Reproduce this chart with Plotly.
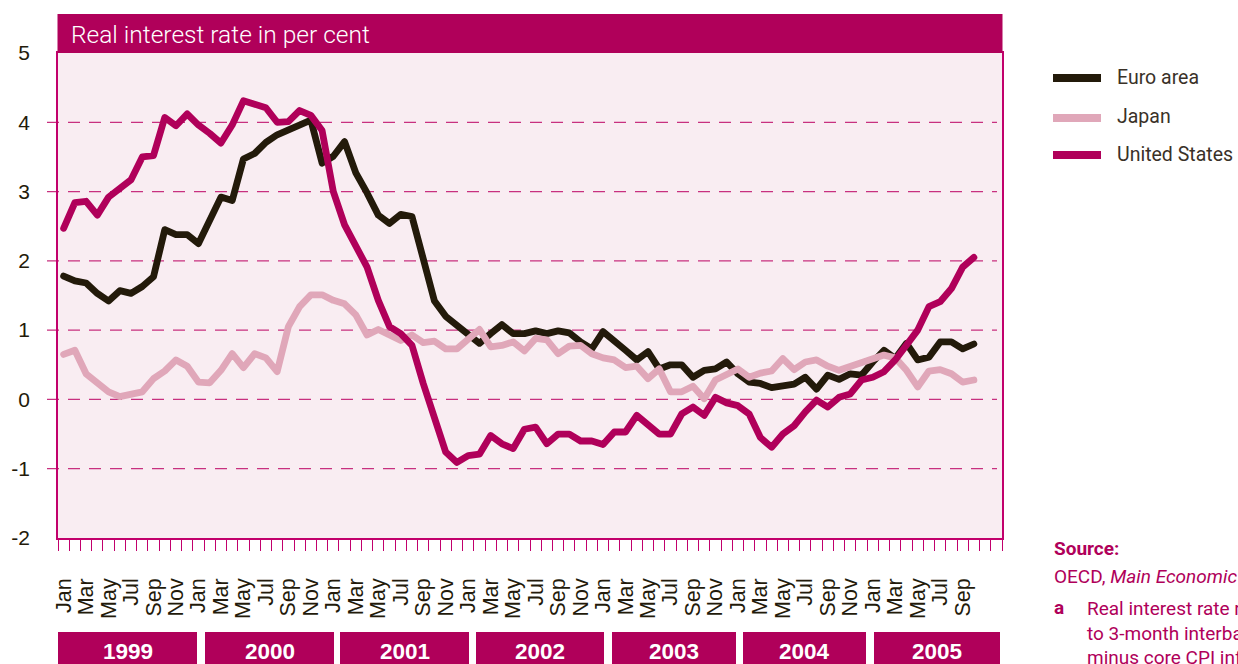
import plotly.graph_objects as go

# ---------------- data ----------------
month_names = ["Jan", "Feb", "Mar", "Apr", "May", "Jun",
               "Jul", "Aug", "Sep", "Oct", "Nov", "Dec"]
years = ["1999", "2000", "2001", "2002", "2003", "2004", "2005"]

euro_area = [
    1.78, 1.71, 1.68, 1.53, 1.42, 1.57, 1.53, 1.63, 1.77, 2.45, 2.38, 2.38,
    2.25, 2.57, 2.92, 2.87, 3.47, 3.55, 3.71, 3.82, 3.89, 3.97, 4.03, 3.41,
    3.51, 3.72, 3.27, 2.98, 2.66, 2.54, 2.67, 2.64, 2.02, 1.42, 1.20, 1.08,
    0.96, 0.81, 0.95, 1.08, 0.95, 0.95, 0.99, 0.95, 0.99, 0.96, 0.83, 0.73,
    0.98, 0.86, 0.71, 0.57, 0.69, 0.44, 0.50, 0.50, 0.32, 0.42, 0.44, 0.54,
    0.37, 0.25, 0.23, 0.17, 0.19, 0.22, 0.32, 0.15, 0.35, 0.29, 0.37, 0.35,
    0.54, 0.71, 0.59, 0.81, 0.57, 0.61, 0.83, 0.83, 0.73, 0.80,
]
japan = [
    0.65, 0.71, 0.37, 0.23, 0.11, 0.04, 0.07, 0.11, 0.30, 0.41, 0.57, 0.48,
    0.25, 0.24, 0.42, 0.66, 0.46, 0.66, 0.60, 0.40, 1.05, 1.34, 1.51, 1.51,
    1.43, 1.38, 1.22, 0.93, 1.01, 0.93, 0.85, 0.93, 0.82, 0.84, 0.73, 0.73,
    0.88, 1.01, 0.76, 0.78, 0.83, 0.70, 0.88, 0.86, 0.66, 0.77, 0.78, 0.66,
    0.60, 0.57, 0.46, 0.48, 0.30, 0.44, 0.11, 0.11, 0.19, 0.01, 0.28, 0.35,
    0.44, 0.32, 0.38, 0.41, 0.59, 0.43, 0.54, 0.57, 0.48, 0.42, 0.48, 0.54,
    0.60, 0.64, 0.60, 0.42, 0.18, 0.41, 0.43, 0.37, 0.25, 0.28,
]
united_states = [
    2.47, 2.84, 2.86, 2.66, 2.92, 3.05, 3.17, 3.50, 3.52, 4.07, 3.95, 4.12,
    3.96, 3.84, 3.70, 3.96, 4.31, 4.26, 4.21, 4.00, 4.01, 4.17, 4.10, 3.88,
    3.00, 2.52, 2.23, 1.91, 1.43, 1.05, 0.95, 0.78, 0.23, -0.30, -0.76, -0.91,
    -0.81, -0.79, -0.52, -0.64, -0.71, -0.43, -0.40, -0.64, -0.50, -0.50, -0.60, -0.60,
    -0.65, -0.47, -0.47, -0.23, -0.38, -0.50, -0.50, -0.21, -0.11, -0.23, 0.03, -0.05,
    -0.09, -0.21, -0.55, -0.69, -0.50, -0.38, -0.18, -0.01, -0.11, 0.03, 0.08, 0.28,
    0.32, 0.40, 0.57, 0.78, 1.00, 1.34, 1.41, 1.60, 1.91, 2.05,
]
series_names = ["Euro area", "Japan", "United States"]
y_ticks = [-2, -1, 0, 1, 2, 3, 4, 5]
y_tick_text = ["-2", "-1", "0", "1", "2", "3", "4", "5"]
grid_values = [-1, 0, 1, 2, 3, 4]

n_slots = len(years) * 12          # 84 month slots on the axis
x_idx = list(range(len(euro_area)))
tick_idx = list(range(0, n_slots - 2, 2))
tick_txt = [month_names[i % 12] for i in tick_idx]

# ---------------- style ----------------
MAG = "#B0005A"
DARK = "#231A0A"
PINK = "#E0A7B9"
BG = "#F9EDF2"
GRID = "#C8307F"
AXIS = "#C2006C"
colors = [DARK, PINK, MAG]

W, H = 1238, 664
L, R, T, B = 58, 236, 53, 126
PW, PH = W - L - R, H - T - B


def px(p):
    return (p - L) / PW


def py(p):
    return (H - B - p) / PH


fig = go.Figure()
for name, vals, col in zip(series_names, [euro_area, japan, united_states], colors):
    fig.add_trace(go.Scatter(x=x_idx, y=vals, mode="lines", name=name,
                             line=dict(color=col, width=6.8), showlegend=False,
                             hoverinfo="skip"))

shapes = []
annotations = []

# dashed grid lines (extend a little left of the axis)
for g in grid_values:
    shapes.append(dict(type="line", xref="paper", yref="y",
                       x0=px(47), x1=px(997), y0=g, y1=g, layer="below",
                       line=dict(color=GRID, width=1.3, dash="12px,9px")))

# title band
shapes.append(dict(type="rect", xref="paper", yref="paper",
                   x0=px(57.5), x1=px(1002.5), y0=1.0, y1=py(14),
                   fillcolor=MAG, line=dict(width=0)))
annotations.append(dict(text="Real interest rate in per cent", xref="paper", yref="paper",
                        x=px(69), y=py(35), xanchor="left", yanchor="middle",
                        showarrow=False,
                        font=dict(family="Roboto, Liberation Sans, sans-serif",
                                  size=24.5, color="white", weight=300)))

# year bands
band_edges = [(58, 197), (205, 334), (340, 469), (476, 604), (612, 736), (743, 866), (874, 1000)]
for yr, (a, b) in zip(years, band_edges):
    shapes.append(dict(type="rect", xref="paper", yref="paper",
                       x0=px(a), x1=px(b), y0=py(632), y1=py(680),
                       fillcolor=MAG, line=dict(width=0)))
    annotations.append(dict(text="<b>%s</b>" % yr, xref="paper", yref="paper",
                            x=px((a + b) / 2), y=py(651), xanchor="center", yanchor="middle",
                            showarrow=False,
                            font=dict(family="Liberation Sans, Arial, sans-serif",
                                      size=22.5, color="white")))

# legend
NARROW = "Liberation Sans Narrow, Roboto, sans-serif"
for name, col, yc in zip(series_names, colors, [78, 118, 155]):
    shapes.append(dict(type="line", xref="paper", yref="paper",
                       x0=px(1053), x1=px(1101), y0=py(yc), y1=py(yc),
                       line=dict(color=col, width=8)))
    annotations.append(dict(text=name, xref="paper", yref="paper",
                            x=px(1115), y=py(yc - 1), xanchor="left", yanchor="middle",
                            showarrow=False,
                            font=dict(family=NARROW, size=19.5, color="#3A3128")))

# source / notes
annotations.append(dict(text="<b>Source:</b>", xref="paper", yref="paper",
                        x=px(1052), y=py(548), xanchor="left", yanchor="middle",
                        showarrow=False, font=dict(family=NARROW, size=19, color=MAG)))
annotations.append(dict(text="OECD, <i>Main Economic Indicators</i>", xref="paper", yref="paper",
                        x=px(1052), y=py(576), xanchor="left", yanchor="middle",
                        showarrow=False, font=dict(family=NARROW, size=19, color=MAG)))
annotations.append(dict(text="<b>a</b>", xref="paper", yref="paper",
                        x=px(1052), y=py(607), xanchor="left", yanchor="middle",
                        showarrow=False, font=dict(family=NARROW, size=19, color=MAG)))
annotations.append(dict(text="Real interest rate refers<br>to 3-month interbank rate<br>minus core CPI inflation",
                        xref="paper", yref="paper", align="left",
                        x=px(1085), y=py(595), xanchor="left", yanchor="top",
                        showarrow=False, font=dict(family=NARROW, size=19, color=MAG)))

fig.update_layout(
    template="none",
    width=W, height=H,
    margin=dict(l=L, r=R, t=T, b=B, pad=0),
    paper_bgcolor="white", plot_bgcolor=BG,
    shapes=shapes, annotations=annotations,
    showlegend=False,
    font=dict(family="Liberation Sans, Arial, sans-serif", color=DARK),
)
fig.update_xaxes(
    range=[-0.5, n_slots - 0.5], tickmode="array", tickvals=tick_idx, ticktext=tick_txt,
    tickangle=-90, ticks="", ticklabelstandoff=30, automargin=False,
    tickfont=dict(family="Liberation Sans, Arial, sans-serif", size=21.5, color=DARK),
    showgrid=False, zeroline=False, showline=True, linecolor=AXIS, linewidth=1.5, mirror=True,
    minor=dict(tickmode="array", tickvals=[i - 0.5 for i in range(n_slots + 1)],
               ticks="outside", ticklen=11, tickcolor=AXIS, tickwidth=1.2, showgrid=False),
)
fig.update_yaxes(
    range=[-2, 5], tickmode="array", tickvals=y_ticks, ticktext=y_tick_text,
    ticks="", ticklabelstandoff=22, automargin=False,
    tickfont=dict(family="Liberation Sans, Arial, sans-serif", size=21, color=DARK),
    showgrid=False, zeroline=False, showline=True, linecolor=AXIS, linewidth=1.5, mirror=True,
)

post = ("document.body.style.margin='0';"
        "document.querySelectorAll('.scatterlayer path.js-line').forEach(function(p){"
        "p.style.strokeLinejoin='round';p.style.strokeLinecap='round';});")
fig.write_html("out.html", config={"displayModeBar": False}, post_script=post)
